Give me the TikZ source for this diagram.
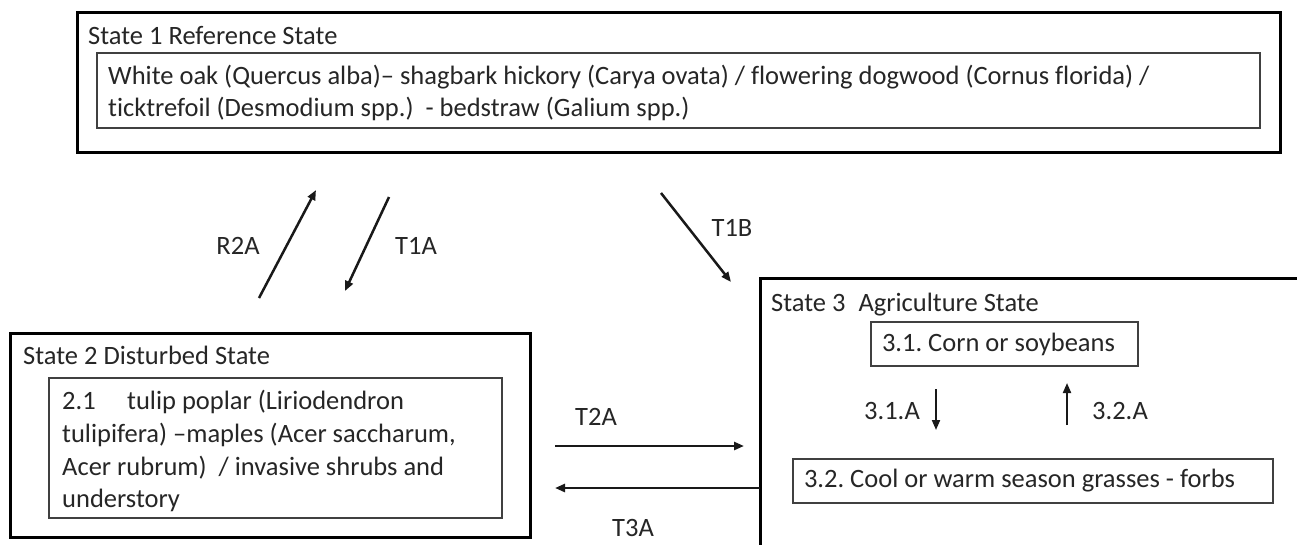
\documentclass[tikz,border=0pt]{standalone}
\usepackage{fontspec}
\setmainfont{Carlito}[Ligatures=NoCommon]
\usetikzlibrary{arrows.meta}
\frenchspacing
\begin{document}
\begin{tikzpicture}[x=1pt,y=-1pt,
  outerbox/.style={draw=black, line width=3pt, rectangle, anchor=north west, inner sep=0pt, outer sep=0pt},
  innerbox/.style={draw=black!75, line width=1.5pt, rectangle, anchor=north west, inner sep=0pt, outer sep=0pt},
  txt/.style={anchor=base west, inner sep=0pt, text=black!85, font=\fontsize{26.5pt}{32pt}\selectfont},
  lbl/.style={anchor=base, inner sep=0pt, text=black!85, font=\fontsize{26.5pt}{32pt}\selectfont},
  subbox/.style={draw=black!75, line width=1.5pt, rectangle, anchor=north west, inner ysep=0pt, inner xsep=5.5pt, outer sep=0pt, minimum height=44pt, align=flush left, text=black!85, font=\fontsize{26.5pt}{32pt}\selectfont},
  arr/.style={line width=2.5pt, draw=black!90, -{Triangle[length=10pt,width=8pt]}}
]
\useasboundingbox (0,0) rectangle (1297,544);
\clip (0,0) rectangle (1297,544);
\fill[white] (0,0) rectangle (1297,544);

% State 1
\node[outerbox, minimum width=1203pt, minimum height=140pt] (s1) at (77,12) {};
\node[innerbox, minimum width=1163pt, minimum height=75pt] (s1in) at (97,53) {};
\node[txt] (s1t) at (88,44) {State 1 Reference State};
\node[txt] (s1a) at (108,84) {White oak (Quercus alba)– shagbark hickory (Carya ovata) / flowering dogwood (Cornus florida) /};
\node[txt] (s1b) at (108,116) {ticktrefoil (Desmodium spp.)\ \ - bedstraw (Galium spp.)};

% State 2
\node[outerbox, minimum width=520pt, minimum height=204pt] (s2) at (10,333) {};
\node[innerbox, minimum width=453pt, minimum height=140pt] (s2in) at (49,378) {};
\node[txt] (s2t) at (23,364) {State 2 Disturbed State};
\node[txt] (s2a) at (62,409) {\makebox[65pt][l]{2.1}tulip poplar (Liriodendron};
\node[txt] (s2b) at (62,442) {tulipifera) –maples (Acer saccharum,};
\node[txt] (s2c) at (62,475) {Acer rubrum)\ \ / invasive shrubs and};
\node[txt] (s2d) at (62,507) {understory};

% State 3
\node[outerbox, minimum width=600pt, minimum height=320pt] (s3) at (760,278) {};
\node[txt] (s3t) at (771,311) {State 3\hspace{7pt} Agriculture State};
\node[subbox, text width=256pt] (c31) at (871,322) {\hspace*{5.5pt}3.1. Corn or soybeans};
\node[subbox, text width=469pt] (c32) at (793,459) {\hspace*{5.5pt}3.2. Cool or warm season grasses - forbs};

% coordinates for connectors
\coordinate (r2a0) at (259,298); \coordinate (r2a1) at (316,190);
\coordinate (t1a0) at (389,197); \coordinate (t1a1) at (345,291);
\coordinate (t1b0) at (661,193); \coordinate (t1b1) at (731,282);
\coordinate (t2a0) at (555,446); \coordinate (t2a1) at (744,446);
\coordinate (t3a0) at (760,488); \coordinate (t3a1) at (555,488);
\coordinate (a31a0) at (936,389); \coordinate (a31a1) at (936,430);
\coordinate (a32a0) at (1067,425); \coordinate (a32a1) at (1067,383);

\draw[arr] (r2a0) -- (r2a1);
\draw[arr] (t1a0) -- (t1a1);
\draw[arr] (t1b0) -- (t1b1);
\draw[arr] (t2a0) -- (t2a1);
\draw[arr] (t3a0) -- (t3a1);
\draw[arr, line width=2pt] (a31a0) -- (a31a1);
\draw[arr, line width=2pt] (a32a0) -- (a32a1);

% labels
\node[lbl] (lr2a) at (238,254) {R2A};
\node[lbl] (lt1a) at (416,254) {T1A};
\node[lbl] (lt1b) at (732,236) {T1B};
\node[lbl] (lt2a) at (596,425) {T2A};
\node[lbl] (lt3a) at (633,536) {T3A};
\node[lbl] (l31a) at (892,419) {3.1.A};
\node[lbl] (l32a) at (1120,419) {3.2.A};
\end{tikzpicture}
\end{document}
